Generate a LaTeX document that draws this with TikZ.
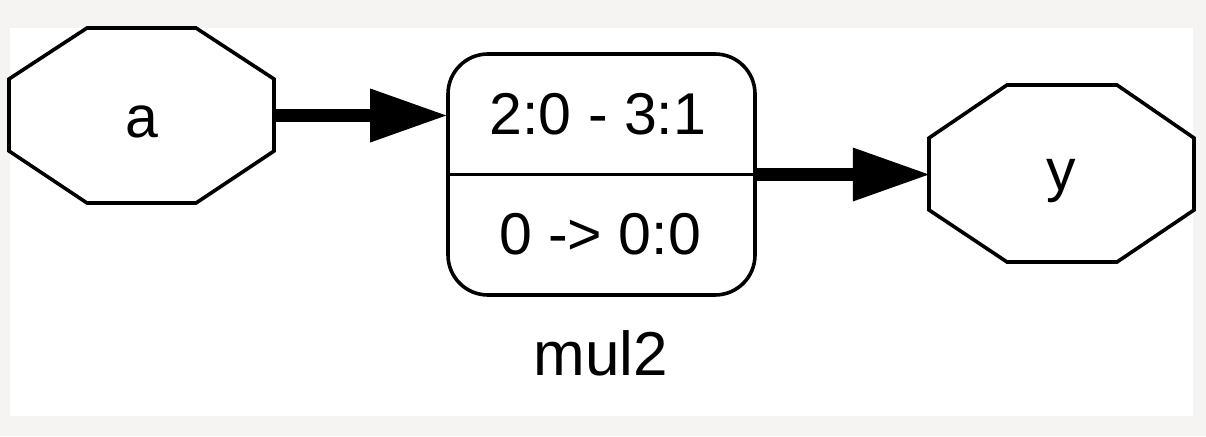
\documentclass[tikz,border=0pt]{standalone}
\usepackage{fontspec}
\setmainfont{Liberation Sans}
\usetikzlibrary{arrows.meta}
\definecolor{bggray}{HTML}{F5F4F2}
\begin{document}
\begin{tikzpicture}[x=1pt,y=-1pt,
  shapeline/.style={line width=3.6pt, line join=miter},
  lbl/.style={font=\fontsize{59}{62}\selectfont, inner sep=0pt, anchor=base},
  biglbl/.style={font=\fontsize{62}{66}\selectfont, inner sep=0pt, anchor=base},
  wire/.style={line width=13pt, -{Triangle[length=76pt,width=54pt,line width=0pt]}},
  hull/.style={draw=none, inner sep=0pt, minimum width=265pt, minimum height=175pt}
]
\useasboundingbox (0,0) rectangle (1206,436);
\fill[bggray] (0,0) rectangle (1206,436);
\fill[white] (10,28) rectangle (1193,416);

% input octagon a
\node[hull] (a) at (141.5,115.5) {};
\draw[shapeline] (87,28) -- (196,28) -- (274,79) -- (274,151) -- (196,203) -- (87,203) -- (9,151) -- (9,79) -- cycle;
\node[lbl] (atext) at (142,137) {a};

% output octagon y
\node[hull] (y) at (1061.5,173.5) {};
\draw[shapeline] (1007,85) -- (1117,85) -- (1194,138) -- (1194,210) -- (1117,262) -- (1007,262) -- (929,210) -- (929,138) -- cycle;
\node[lbl] (ytext) at (1061,190) {y};

% cell box
\node[draw, shapeline, rounded corners=40pt, minimum width=307pt, minimum height=241pt, inner sep=0pt] (box) at (601.5,174.5) {};
\draw[shapeline] (box.west) -- (box.east);
\node[lbl] (top) at (598,134) {2:0 - 3:1};
\node[lbl] (bot) at (600,254) {0 -> 0:0};

% cluster label
\node[biglbl] (mul) at (601,375) {mul2};

% connectors
\draw[wire] (a.east) -- (box.west |- a.east);
\draw[wire] (box.east) -- (box.east -| y.west);
\end{tikzpicture}
\end{document}
